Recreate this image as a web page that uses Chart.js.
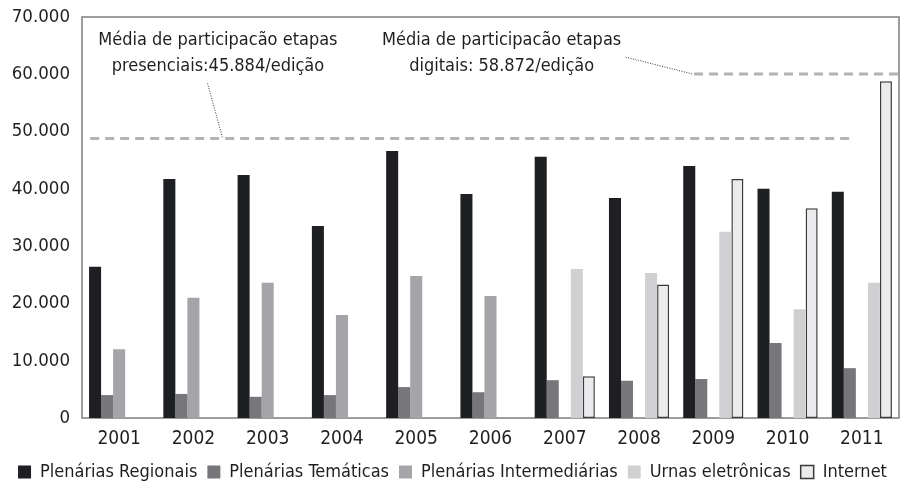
<!DOCTYPE html>
<html>
<head>
<meta charset="utf-8">
<script src="https://cdn.jsdelivr.net/npm/chart.js@4"></script>
<style>
  html, body { margin: 0; padding: 0; background: #fff; }
  #wrap { width: 901px; height: 493px; }
</style>
</head>
<body>
<div id="wrap"><canvas id="partChart" width="901" height="493"></canvas></div>
<script>
const years = ['2001', '2002', '2003', '2004', '2005', '2006', '2007', '2008', '2009', '2010', '2011'];
const regionais = [26400, 41700, 42400, 33500, 46600, 39100, 45600, 38400, 44000, 40000, 39500];
const tematicas = [4000, 4200, 3700, 4000, 5400, 4500, 6600, 6500, 6800, 13100, 8700];
const intermediarias = [12000, 21000, 23600, 18000, 24800, 21300, null, null, null, null, null];
const urnas = [null, null, null, null, null, null, 26000, 25300, 32500, 19000, 23600];
const internet = [null, null, null, null, null, null, 7300, 23300, 41700, 36600, 58800];

// average lines (value as drawn, span in category units) and their notes
const avgLines = [
  { value: 48800, from: -0.39, to: 9.89 },
  { value: 60050, from: 7.74, to: 10.5 }
];
const notes = [
  { x: 1.33, y: 66000, lines: ['Média de participacão etapas', 'presenciais:45.884/edição'], lead: [1.19, 58400, 1.39, 49000] },
  { x: 5.15, y: 66000, lines: ['Média de participacão etapas', 'digitais: 58.872/edição'], lead: [6.82, 63000, 7.72, 60050] }
];

const FONT = "'DejaVu Sans Condensed', 'DejaVu Sans', sans-serif";
const INK = '#1e1f22';

const frame = {
  id: 'frame',
  beforeDatasetsDraw(chart) {
    const a = chart.chartArea, ctx = chart.ctx;
    ctx.save();
    ctx.strokeStyle = '#7c7c7e';
    ctx.lineWidth = 1.5;
    ctx.strokeRect(a.left, a.top, a.right - a.left, a.bottom - a.top);
    ctx.restore();
  },
  afterDatasetsDraw(chart) {
    const ctx = chart.ctx, xs = chart.scales.x, ys = chart.scales.y;
    ctx.save();
    ctx.strokeStyle = '#b3b3b5';
    ctx.lineWidth = 3;
    ctx.setLineDash([9, 6]);
    avgLines.forEach(l => {
      const y = ys.getPixelForValue(l.value);
      ctx.beginPath();
      ctx.moveTo(xs.getPixelForValue(l.from), y);
      ctx.lineTo(Math.min(xs.getPixelForValue(l.to), chart.chartArea.right), y);
      ctx.stroke();
    });
    ctx.strokeStyle = '#333';
    ctx.lineWidth = 1;
    ctx.setLineDash([1, 1.5]);
    notes.forEach(n => {
      ctx.beginPath();
      ctx.moveTo(xs.getPixelForValue(n.lead[0]), ys.getPixelForValue(n.lead[1]));
      ctx.lineTo(xs.getPixelForValue(n.lead[2]), ys.getPixelForValue(n.lead[3]));
      ctx.stroke();
    });
    ctx.setLineDash([]);
    ctx.fillStyle = INK;
    ctx.font = '18px ' + FONT;
    ctx.textAlign = 'center';
    ctx.textBaseline = 'middle';
    notes.forEach(n => {
      const cx = xs.getPixelForValue(n.x), cy = ys.getPixelForValue(n.y);
      n.lines.forEach((t, i) => ctx.fillText(t, cx, cy + i * 26));
    });
    ctx.restore();
  }
};

const ctx = document.getElementById('partChart').getContext('2d');
new Chart(ctx, {
  type: 'bar',
  data: {
    labels: years,
    datasets: [
      { label: 'Plenárias Regionais', data: regionais, backgroundColor: '#1e1f22' },
      { label: 'Plenárias Temáticas', data: tematicas, backgroundColor: '#77767b' },
      { label: 'Plenárias Intermediárias', data: intermediarias, backgroundColor: '#a5a4a8' },
      { label: 'Urnas eletrônicas', data: urnas, backgroundColor: '#d0d0d2' },
      { label: 'Internet', data: internet, backgroundColor: '#ebebed', borderColor: '#3a3a3c', borderWidth: 1.5, borderSkipped: false }
    ]
  },
  options: {
    responsive: false,
    animation: false,
    categoryPercentage: 0.81,
    barPercentage: 1.0,
    layout: { padding: { left: 6, right: 2, top: 17, bottom: 2 } },
    scales: {
      x: {
        grid: { display: false, drawTicks: false },
        border: { display: false },
        ticks: { color: INK, font: { family: FONT, size: 19 }, padding: 10 },
        afterFit(s) { s.height = 35; }
      },
      y: {
        min: 0, max: 70000,
        grid: { display: false, drawTicks: false },
        border: { display: false },
        ticks: {
          stepSize: 10000, color: INK, padding: 12,
          font: { family: FONT, size: 18.5 },
          callback: v => v.toLocaleString('de-DE')
        },
        afterFit(s) { s.width = 76; s.paddingTop = 0; s.paddingBottom = 0; }
      }
    },
    plugins: {
      tooltip: { enabled: false },
      legend: {
        position: 'bottom',
        labels: {
          color: INK, boxWidth: 13, boxHeight: 13, padding: 10,
          font: { family: FONT, size: 18 }
        }
      }
    }
  },
  plugins: [frame]
});
</script>
</body>
</html>
